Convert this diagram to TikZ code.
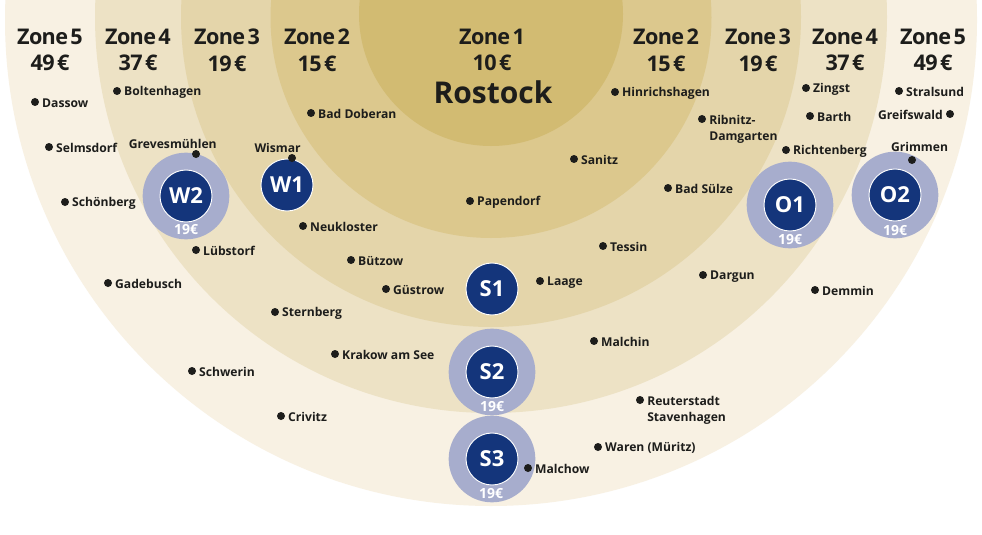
\documentclass[tikz,border=0pt]{standalone}
\usepackage{fontspec}
\setmainfont{Open Sans}
\newfontfamily\headFont{Open Sans}[LetterSpace=-3,WordSpace=0.5]
\usetikzlibrary{positioning}
\definecolor{zoneFive}{HTML}{F8F1E3}
\definecolor{zoneFour}{HTML}{EDE2C5}
\definecolor{zoneThree}{HTML}{E4D5AA}
\definecolor{zoneTwo}{HTML}{DCC88D}
\definecolor{zoneOne}{HTML}{D2BB72}
\definecolor{hubBlue}{HTML}{14357B}
\definecolor{hubRing}{HTML}{A7ADCD}
\definecolor{inkBlack}{HTML}{1D1D1B}
\tikzset{
    % Zones and their headings
    zoneHead/.style={
        align=center,
        text=inkBlack,
        font=\headFont\fontsize{16.2}{20}\selectfont\bfseries,
        inner sep=0pt
    },
    % Towns
    town/.style={
        circle,
        fill=inkBlack,
        inner sep=0pt,
        minimum size=6pt
    },
    townName/.style={
        text=inkBlack,
        align=left,
        font=\fontsize{9.1}{12}\selectfont\bfseries,
        inner sep=0pt,
        yshift=-1pt
    },
    % Hubs
    hub/.style={
        circle,
        draw=white,
        line width=0.7pt,
        fill=hubBlue,
        text=white,
        font=\fontsize{16.5}{18}\selectfont\bfseries,
        inner sep=0pt,
        minimum size=39pt
    },
    hubHalo/.style={
        circle,
        fill=hubRing,
        inner sep=0pt,
        minimum size=65pt
    },
    hubFare/.style={
        text=white,
        font=\fontsize{10.5}{11}\selectfont\bfseries,
        inner sep=0pt
    }
}

\begin{document}
\begin{tikzpicture}[x=0.75pt,y=-0.75pt]

    \useasboundingbox[fill=white] (0,0) rectangle (982,535);

    % rings, clipped at the top edge
    \begin{scope}
        \clip (0,0) rectangle (982,535);
        \fill[zoneFive]  (491,20) circle[radius=486];
        \fill[zoneFour]  (491,17) circle[radius=396];
        \fill[zoneThree] (491,17) circle[radius=310];
        \fill[zoneTwo]   (491,17.5) circle[radius=220.5];
        \fill[zoneOne]   (491,14) circle[radius=132];
    \end{scope}

    % headings
    \node[zoneHead] (headFiveW)  at (50,50)  {Zone 5\\49 €};
    \node[zoneHead] (headFourW)  at (138,50) {Zone 4\\37 €};
    \node[zoneHead] (headThreeW) at (227,50) {Zone 3\\19 €};
    \node[zoneHead] (headTwoW)   at (317,50) {Zone 2\\15 €};
    \node[zoneHead] (headOne)    at (492,50) {Zone 1\\10 €};
    \node[zoneHead] (headTwoE)   at (666,50) {Zone 2\\15 €};
    \node[zoneHead] (headThreeE) at (758,50) {Zone 3\\19 €};
    \node[zoneHead] (headFourE)  at (845,50) {Zone 4\\37 €};
    \node[zoneHead] (headFiveE)  at (933,50) {Zone 5\\49 €};
    \node[zoneHead, font=\fontsize{22.5}{26}\selectfont\bfseries] (rostock) at (493,92) {Rostock};

    % halos first, towns on top
    \node[hubHalo] (haloW2) at (186,196) {};
    \node[hubHalo] (haloO1) at (790,205) {};
    \node[hubHalo] (haloO2) at (895,195) {};
    \node[hubHalo] (haloS2) at (492,372) {};
    \node[hubHalo] (haloS3) at (492,459) {};

    \node[hub] (W1) at (287,185) {W1};
    \node[hub] (W2) at (186,196) {W2};
    \node[hub] (O1) at (790,205) {O1};
    \node[hub] (O2) at (895,195) {O2};
    \node[hub] (S1) at (492,289) {S1};
    \node[hub] (S2) at (492,372) {S2};
    \node[hub] (S3) at (492,459) {S3};

    \node[hubFare] (fareW2) at (186,230) {19€};
    \node[hubFare] (fareO1) at (790,240) {19€};
    \node[hubFare] (fareO2) at (895,231) {19€};
    \node[hubFare] (fareS2) at (492,407) {19€};
    \node[hubFare] (fareS3) at (491,494) {19€};

    % west
    \node[town] (dassow) at (35,102) {};
    \node[townName, right=2pt of dassow] (dassowName) {Dassow};
    \node[town] (boltenhagen) at (117,91) {};
    \node[townName, right=2pt of boltenhagen] (boltenhagenName) {Boltenhagen};
    \node[town] (selmsdorf) at (49,147) {};
    \node[townName, right=2pt of selmsdorf] (selmsdorfName) {Selmsdorf};
    \node[town] (schoenberg) at (65,202) {};
    \node[townName, right=2pt of schoenberg] (schoenbergName) {Schönberg};
    \node[town] (grevesmuehlen) at (196,154) {};
    \node[townName, above left=2.5pt and -18pt of grevesmuehlen] (grevesmuehlenName) {Grevesmühlen};
    \node[town] (luebstorf) at (196,250) {};
    \node[townName, right=2pt of luebstorf] (luebstorfName) {Lübstorf};
    \node[town] (gadebusch) at (108,283) {};
    \node[townName, right=2pt of gadebusch] (gadebuschName) {Gadebusch};
    \node[town] (schwerin) at (192,371) {};
    \node[townName, right=2pt of schwerin] (schwerinName) {Schwerin};
    \node[town] (crivitz) at (281,416) {};
    \node[townName, right=2pt of crivitz] (crivitzName) {Crivitz};
    \node[town] (wismar) at (292,158) {};
    \node[townName, above left=2.5pt and -9pt of wismar] (wismarName) {Wismar};
    \node[town] (badDoberan) at (311,113) {};
    \node[townName, right=2pt of badDoberan] (badDoberanName) {Bad Doberan};
    \node[town] (neukloster) at (303,226) {};
    \node[townName, right=2pt of neukloster] (neuklosterName) {Neukloster};
    \node[town] (buetzow) at (351,260) {};
    \node[townName, right=2pt of buetzow] (buetzowName) {Bützow};
    \node[town] (guestrow) at (386,289) {};
    \node[townName, right=2pt of guestrow] (guestrowName) {Güstrow};
    \node[town] (sternberg) at (275,312) {};
    \node[townName, right=2pt of sternberg] (sternbergName) {Sternberg};
    \node[town] (krakow) at (335,354) {};
    \node[townName, right=2pt of krakow] (krakowName) {Krakow am See};

    % centre and east
    \node[town] (papendorf) at (470,201) {};
    \node[townName, right=2pt of papendorf] (papendorfName) {Papendorf};
    \node[town] (laage) at (540,281) {};
    \node[townName, right=2pt of laage] (laageName) {Laage};
    \node[town] (malchin) at (594,341) {};
    \node[townName, right=2pt of malchin] (malchinName) {Malchin};
    \node[town] (reuterstadt) at (640,400) {};
    \node[townName, anchor=north west] (reuterstadtName) at (647,395) {Reuterstadt\\Stavenhagen};
    \node[town] (waren) at (598,447) {};
    \node[townName, right=2pt of waren] (warenName) {Waren (Müritz)};
    \node[town] (malchow) at (528,468) {};
    \node[townName, right=2pt of malchow] (malchowName) {Malchow};
    \node[town] (hinrichshagen) at (615,92) {};
    \node[townName, right=2pt of hinrichshagen] (hinrichshagenName) {Hinrichshagen};
    \node[town] (sanitz) at (574,159) {};
    \node[townName, right=2pt of sanitz] (sanitzName) {Sanitz};
    \node[town] (ribnitz) at (702,119) {};
    \node[townName, anchor=north west] (ribnitzName) at (709,114) {Ribnitz-\\Damgarten};
    \node[town] (badSuelze) at (668,188) {};
    \node[townName, right=2pt of badSuelze] (badSuelzeName) {Bad Sülze};
    \node[town] (tessin) at (603,246) {};
    \node[townName, right=2pt of tessin] (tessinName) {Tessin};
    \node[town] (dargun) at (703,275) {};
    \node[townName, right=2pt of dargun] (dargunName) {Dargun};
    \node[town] (demmin) at (815,290) {};
    \node[townName, right=2pt of demmin] (demminName) {Demmin};
    \node[town] (zingst) at (806,88) {};
    \node[townName, right=2pt of zingst] (zingstName) {Zingst};
    \node[town] (barth) at (810,116) {};
    \node[townName, right=2pt of barth] (barthName) {Barth};
    \node[town] (richtenberg) at (786,150) {};
    \node[townName, right=2pt of richtenberg] (richtenbergName) {Richtenberg};
    \node[town] (stralsund) at (899,91) {};
    \node[townName, right=2pt of stralsund] (stralsundName) {Stralsund};
    \node[town] (greifswald) at (950,114) {};
    \node[townName, left=2pt of greifswald] (greifswaldName) {Greifswald};
    \node[town] (grimmen) at (912,160) {};
    \node[townName, above left=4.5pt and -29.5pt of grimmen] (grimmenName) {Grimmen};

\end{tikzpicture}
\end{document}
